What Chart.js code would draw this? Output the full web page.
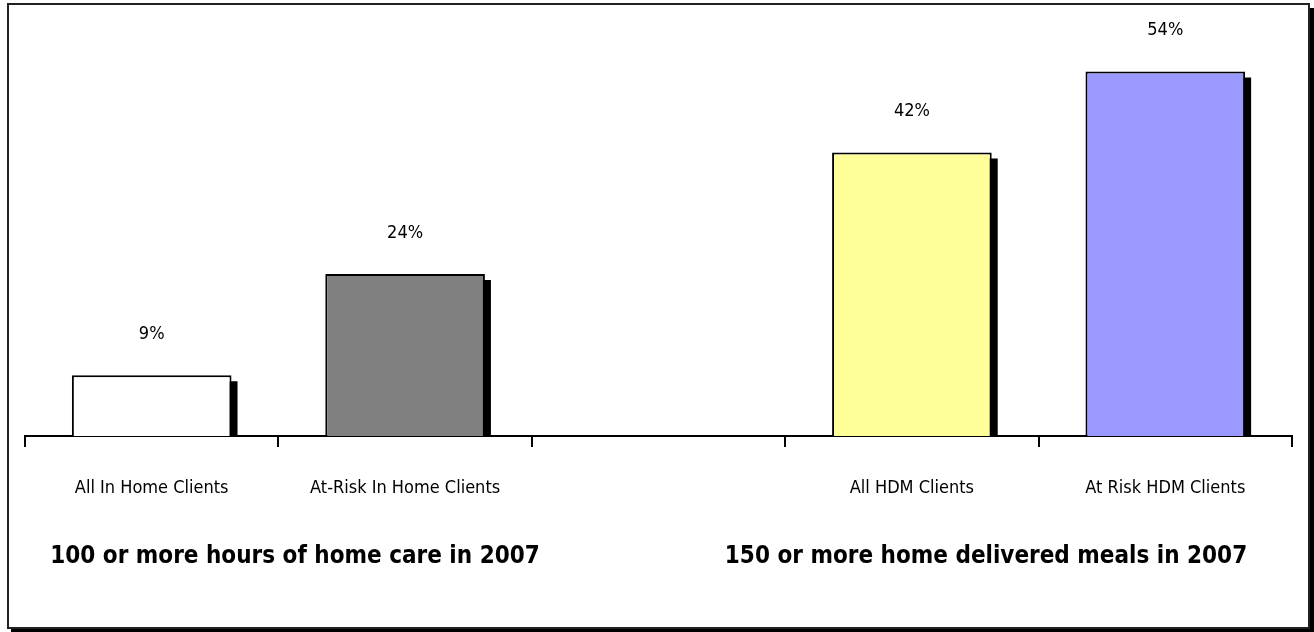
<!DOCTYPE html>
<html>
<head>
<meta charset="utf-8">
<script src="https://cdn.jsdelivr.net/npm/chart.js@4"></script>
<style>
  body { margin: 0; background: #fff; }
  canvas { display: block; }
</style>
</head>
<body>
<canvas id="grafico" width="1314" height="632"></canvas>
<script>
// dados do gráfico
const categorias = ['All In Home Clients', 'At-Risk In Home Clients', '', 'All HDM Clients', 'At Risk HDM Clients'];
const valores = [9, 24, null, 42, 54];
const rotulos = ['9%', '24%', '', '42%', '54%'];
const cores = ['#ffffff', '#808080', '#ffffff', '#ffff99', '#9999ff'];
const grupos = ['100 or more hours of home care in 2007', '150 or more home delivered meals in 2007'];

const fonteNarrow = '"Liberation Sans Narrow", "Arial Narrow", "DejaVu Sans Condensed", sans-serif';

// moldura com sombra
const moldura = {
    id: 'moldura',
    beforeDraw(chart) {
        const ctx = chart.ctx;
        ctx.save();
        ctx.fillStyle = '#fff';
        ctx.fillRect(0, 0, chart.width, chart.height);
        ctx.fillStyle = '#000';
        ctx.fillRect(1310, 8, 4, 624);
        ctx.fillRect(11, 629, 1303, 3);
        ctx.strokeStyle = '#222';
        ctx.lineWidth = 2;
        ctx.strokeRect(8, 4, 1301, 624);
        ctx.restore();
    }
};

// sombra preta atrás das barras
const sombra = {
    id: 'sombra',
    beforeDatasetsDraw(chart) {
        const ctx = chart.ctx;
        const meta = chart.getDatasetMeta(0);
        ctx.save();
        ctx.fillStyle = '#000';
        meta.data.forEach((bar, i) => {
            if (valores[i] == null) return;
            const w = bar.width;
            ctx.fillRect(bar.x - w / 2 + 6, bar.y + 6, w, bar.base - bar.y - 6);
        });
        ctx.restore();
    }
};

// rótulos acima das barras e títulos dos grupos
const textos = {
    id: 'textos',
    afterDatasetsDraw(chart) {
        const ctx = chart.ctx;
        const meta = chart.getDatasetMeta(0);
        ctx.save();
        ctx.fillStyle = '#000';
        ctx.textAlign = 'center';
        ctx.textBaseline = 'middle';
        ctx.font = '18px ' + fonteNarrow;
        meta.data.forEach((bar, i) => {
            if (valores[i] == null) return;
            ctx.fillText(rotulos[i], bar.x, bar.y - 41);
        });
        ctx.font = 'bold 24px ' + fonteNarrow;
        ctx.fillText(grupos[0], 295, 557);
        ctx.fillText(grupos[1], 986, 557);
        ctx.restore();
    }
};

const ctx = document.getElementById('grafico').getContext('2d');
const myChart = new Chart(ctx, {
    type: 'bar',
    data: {
        labels: categorias,
        datasets: [{
            data: valores,
            backgroundColor: cores,
            borderColor: '#000',
            borderWidth: 2,
            borderSkipped: 'bottom',
            categoryPercentage: 1,
            barPercentage: 0.63
        }]
    },
    options: {
        responsive: false,
        animation: false,
        layout: { padding: { top: 31, left: 25, right: 22, bottom: 0 } },
        plugins: {
            legend: { display: false },
            tooltip: { enabled: false }
        },
        scales: {
            x: {
                grid: {
                    drawOnChartArea: false,
                    drawTicks: true,
                    tickLength: 11,
                    color: '#000',
                    lineWidth: 2
                },
                border: { display: true, color: '#000', width: 2 },
                ticks: {
                    color: '#000',
                    padding: 31,
                    font: { family: fonteNarrow, size: 18 }
                },
                afterFit(scale) { scale.height = 196; }
            },
            y: {
                display: false,
                min: 0,
                max: 60
            }
        }
    },
    plugins: [moldura, sombra, textos]
});
</script>
</body>
</html>
